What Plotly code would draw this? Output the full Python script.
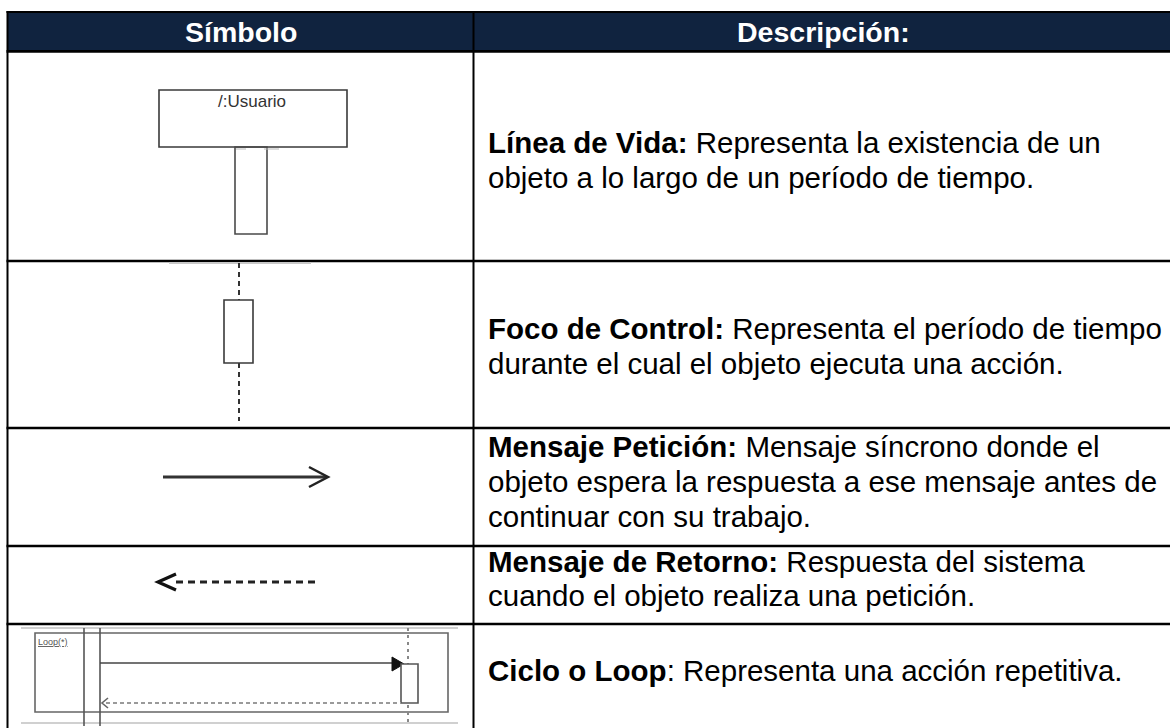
import plotly.graph_objects as go

# ---------------- data ----------------
HEADERS = ["Símbolo", "Descripción:"]
TERMS = ["Línea de Vida:", "Foco de Control:", "Mensaje Petición:", "Mensaje de Retorno:", "Ciclo o Loop"]
DESCRIPTIONS = [
    [" Representa la existencia de un", "objeto a lo largo de un período de tiempo."],
    [" Representa el período de tiempo", "durante el cual el objeto ejecuta una acción."],
    [" Mensaje síncrono donde el", "objeto espera la respuesta a ese mensaje antes de", "continuar con su trabajo."],
    [" Respuesta del sistema", "cuando el objeto realiza una petición."],
    [": Representa una acción repetitiva."],
]
LIFELINE_LABEL = "/:Usuario"
LOOP_LABEL = "Loop(*)"

# ---------------- layout constants ----------------
W, H = 1170, 728
FONT = "Arial, Liberation Sans, sans-serif"
BODY_SIZE = 29.5
ROW_LINES = [261, 428, 546, 624]
LINE_Y = [[142, 177], [328, 363], [446, 481, 516], [561, 595.5], [670]]
TEXT_X = 486
COL_X = 473.5
LEFT_X = 7.5

fig = go.Figure()
fig.add_trace(go.Scatter(x=[0, W], y=[0, H], mode="markers", marker=dict(opacity=0), hoverinfo="skip", showlegend=False))

shapes = []
def line(x0, y0, x1, y1, color="#000", width=2, dash=None):
    d = dict(type="line", x0=x0, y0=y0, x1=x1, y1=y1, xref="x", yref="y", line=dict(color=color, width=width))
    if dash:
        d["line"]["dash"] = dash
    shapes.append(d)

def rect(x0, y0, x1, y1, color="#444", width=1.5, fill="rgba(0,0,0,0)"):
    shapes.append(dict(type="rect", x0=x0, y0=y0, x1=x1, y1=y1, xref="x", yref="y",
                       line=dict(color=color, width=width), fillcolor=fill))

def path(p, color="#333", width=2, fill=None):
    d = dict(type="path", path=p, xref="x", yref="y", line=dict(color=color, width=width))
    if fill:
        d["fillcolor"] = fill
    shapes.append(d)

# header band
rect(LEFT_X, 11, W + 5, 52, color="#10233f", width=0, fill="#10233f")
line(LEFT_X - 1, 12, W + 5, 12, width=2)
line(LEFT_X - 1, 51.3, W + 5, 51.3, width=2.8)
# vertical borders
line(LEFT_X, 11, LEFT_X, H + 5, width=2)
line(COL_X, 11, COL_X, H + 5, width=2)
# row separators
for y in ROW_LINES:
    line(LEFT_X - 1, y, W + 5, y, width=2.5)

# --- symbol 1: lifeline ---
rect(159, 90, 347, 147, color="#3a3a3a", width=1.6)
rect(235, 147, 267, 234, color="#4a4a4a", width=1.6)
line(236, 149, 246, 149, color="#bbb", width=1)
line(264, 149, 279, 149, color="#bbb", width=1)

# --- symbol 2: focus of control ---
line(169, 263, 311, 263, color="#c8c8c8", width=2)
line(239, 263, 239, 300, color="#333", width=2, dash="5px,4px")
line(239, 363, 239, 421, color="#333", width=2, dash="5px,4px")
rect(224, 300, 253, 363, color="#3a3a3a", width=1.6)

# --- symbol 3: request message ---
line(163, 477, 326, 477, color="#333", width=3)
path("M 309 467 L 328 477 L 309 487", color="#222", width=2.5)

# --- symbol 4: return message ---
line(176, 582, 318, 582, color="#222", width=3, dash="7px,5px")
path("M 176 574 L 158 582 L 176 590", color="#111", width=3.2)

# --- symbol 5: loop ---
line(21, 628, 458, 628, color="#d0d0d0", width=2)
line(21, 723, 458, 723, color="#d0d0d0", width=2)
rect(35, 633, 448, 712, color="#666", width=1.6)
line(84, 628, 84, 726, color="#555", width=1.6)
line(100, 628, 100, 726, color="#555", width=1.6)
line(408, 628, 408, 726, color="#888", width=2, dash="3px,4px")
line(100, 663, 394, 663, color="#444", width=1.6)
path("M 392 657 L 404 664 L 392 671 Z", color="#111", width=1, fill="#111")
rect(401, 664, 418, 703, color="#555", width=1.6, fill="#ffffff")
line(106, 703, 401, 703, color="#9a9a9a", width=2, dash="4px,3px")
path("M 108 698 L 102 703 L 108 708", color="#666", width=1.6)

annotations = []
# header text
annotations.append(dict(x=(LEFT_X + COL_X) / 2, y=31.5, text="<b>" + HEADERS[0] + "</b>", showarrow=False,
                        xref="x", yref="y", font=dict(family=FONT, size=BODY_SIZE - 1, color="#ffffff")))
annotations.append(dict(x=(COL_X + W) / 2 + 2, y=31.5, text="<b>" + HEADERS[1] + "</b>", showarrow=False,
                        xref="x", yref="y", font=dict(family=FONT, size=BODY_SIZE - 1, color="#ffffff")))

# descriptions
for term, lines_, ys in zip(TERMS, DESCRIPTIONS, LINE_Y):
    for i, (txt, y) in enumerate(zip(lines_, ys)):
        t = ("<b>" + term + "</b>" + txt) if i == 0 else txt
        annotations.append(dict(x=TEXT_X, y=y, text=t, showarrow=False, xanchor="left", yanchor="middle",
                                xref="x", yref="y", font=dict(family=FONT, size=BODY_SIZE, color="#000000")))

# small diagram labels
annotations.append(dict(x=252, y=101, text=LIFELINE_LABEL, showarrow=False, xref="x", yref="y",
                        font=dict(family=FONT, size=17, color="#333")))
annotations.append(dict(x=36, y=642, text="<u>" + LOOP_LABEL + "</u>", showarrow=False, xanchor="left",
                        xref="x", yref="y", font=dict(family=FONT, size=9, color="#555")))

fig.update_layout(
    width=W, height=H, margin=dict(l=0, r=0, t=0, b=0),
    paper_bgcolor="#ffffff", plot_bgcolor="#ffffff",
    xaxis=dict(range=[0, W], visible=False, fixedrange=True),
    yaxis=dict(range=[H, 0], visible=False, fixedrange=True),
    shapes=shapes, annotations=annotations, showlegend=False,
)
fig.write_html("out.html", config={"displayModeBar": False},
               post_script="document.body.style.margin='0';document.body.style.overflow='hidden';")
